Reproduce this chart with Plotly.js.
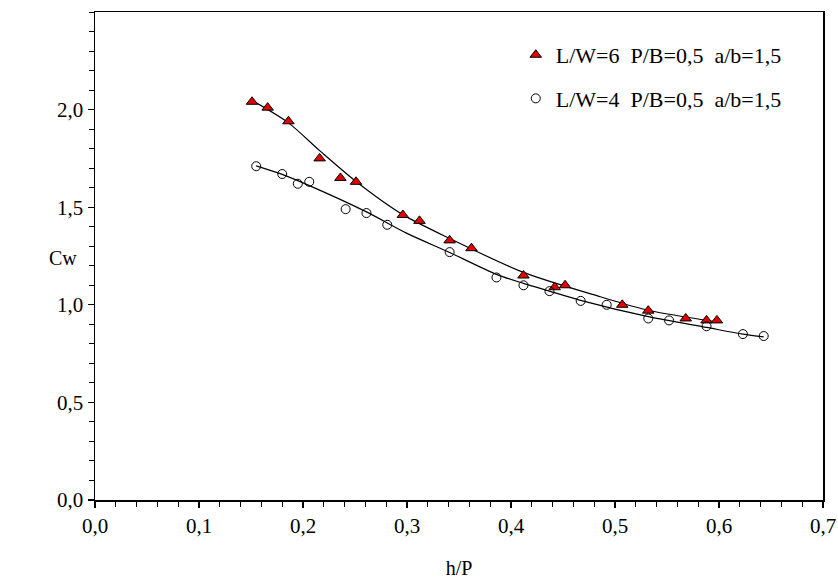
<!DOCTYPE html>
<html>
<head>
<meta charset="utf-8">
<script src="https://cdn.plot.ly/plotly-3.0.1.min.js"></script>
<style>html,body{margin:0;padding:0;background:#fff;}#chart{width:838px;height:579px;}</style>
</head>
<body>
<div id="chart"></div>
<script>
// Series 1: L/W=6 (triangles)
var lw6_x = [0.151, 0.166, 0.186, 0.216, 0.236, 0.251, 0.296, 0.312, 0.341, 0.362, 0.412, 0.442, 0.452, 0.507, 0.532, 0.568, 0.588, 0.598];
var lw6_y = [2.04, 2.01, 1.94, 1.75, 1.65, 1.63, 1.46, 1.43, 1.33, 1.29, 1.15, 1.09, 1.10, 1.00, 0.97, 0.93, 0.92, 0.92];
// Series 2: L/W=4 (circles)
var lw4_x = [0.155, 0.180, 0.195, 0.206, 0.241, 0.261, 0.281, 0.341, 0.386, 0.412, 0.437, 0.467, 0.492, 0.532, 0.552, 0.588, 0.623, 0.643];
var lw4_y = [1.71, 1.67, 1.62, 1.63, 1.49, 1.47, 1.41, 1.27, 1.14, 1.10, 1.07, 1.02, 1.00, 0.93, 0.92, 0.89, 0.85, 0.84];
// Trend curves
var fit6_x = [0.150, 0.186, 0.216, 0.251, 0.296, 0.341, 0.412, 0.486, 0.532, 0.599];
var fit6_y = [2.050, 1.932, 1.790, 1.632, 1.462, 1.340, 1.166, 1.041, 0.972, 0.911];
var fit4_x = [0.155, 0.180, 0.205, 0.261, 0.300, 0.341, 0.386, 0.412, 0.437, 0.466, 0.532, 0.588, 0.623, 0.643];
var fit4_y = [1.712, 1.668, 1.613, 1.476, 1.366, 1.268, 1.156, 1.110, 1.070, 1.024, 0.939, 0.884, 0.850, 0.836];
var names = ["L/W=6  P/B=0,5  a/b=1,5", "L/W=4  P/B=0,5  a/b=1,5"];
var yTicks = [0, 0.5, 1.0, 1.5, 2.0];
var yTickText = ["0,0", "0,5", "1,0", "1,5", "2,0"];

var F = "Liberation Serif, Times New Roman, serif";
var traces = [
  {x: fit6_x, y: fit6_y, mode: "lines", line: {color: "#000", width: 1.2, shape: "spline", smoothing: 0.8}, showlegend: false, hoverinfo: "skip"},
  {x: fit4_x, y: fit4_y, mode: "lines", line: {color: "#000", width: 1.2, shape: "spline", smoothing: 0.8}, showlegend: false, hoverinfo: "skip"},
  {x: lw6_x, y: lw6_y, mode: "markers", name: names[0], legendgroup: "a",
   marker: {symbol: "triangle-up", size: 10, color: "#e00000", line: {color: "#000", width: 1}}},
  {x: lw4_x, y: lw4_y, mode: "markers", name: names[1], legendgroup: "b",
   marker: {symbol: "circle-open", size: 9, color: "#000", line: {color: "#000", width: 1}}}
];
var layout = {
  width: 838, height: 579,
  margin: {l: 95, r: 15, t: 12, b: 79},
  paper_bgcolor: "#fff", plot_bgcolor: "#fff",
  separators: ", ",
  font: {family: F, size: 20, color: "#000"},
  showlegend: true,
  legend: {x: 0.578, y: 0.955, xanchor: "left", yanchor: "top", bgcolor: "rgba(0,0,0,0)",
           font: {family: F, size: 22, color: "#000"}, tracegroupgap: 12, traceorder: "grouped"},
  xaxis: {range: [0, 0.7], dtick: 0.1, tickformat: ".1f", showgrid: false, zeroline: false,
          showline: true, linecolor: "#000", linewidth: 1.5, mirror: true,
          ticks: "outside", ticklen: 6, tickwidth: 1.3, tickcolor: "#000",
          minor: {dtick: 0.02, ticks: "outside", ticklen: 5, tickwidth: 1, tickcolor: "#000", showgrid: false},
          tickfont: {family: F, size: 21},
          title: {text: "h/P", font: {family: F, size: 20}, standoff: 24}},
  yaxis: {range: [0, 2.5], tickmode: "array", tickvals: yTicks, ticktext: yTickText, showgrid: false, zeroline: false,
          showline: true, linecolor: "#000", linewidth: 1.5, mirror: true,
          ticks: "outside", ticklen: 6, tickwidth: 1.3, tickcolor: "#000",
          minor: {dtick: 0.1, ticks: "outside", ticklen: 5, tickwidth: 1, tickcolor: "#000", showgrid: false},
          tickfont: {family: F, size: 21}},
  annotations: [
    {text: "Cw", xref: "paper", yref: "y", x: -0.022, y: 1.24, xanchor: "right", yanchor: "middle",
     showarrow: false, font: {family: F, size: 20, color: "#000"}}
  ]
};
Plotly.newPlot("chart", traces, layout, {staticPlot: true, displayModeBar: false});
</script>
</body>
</html>
